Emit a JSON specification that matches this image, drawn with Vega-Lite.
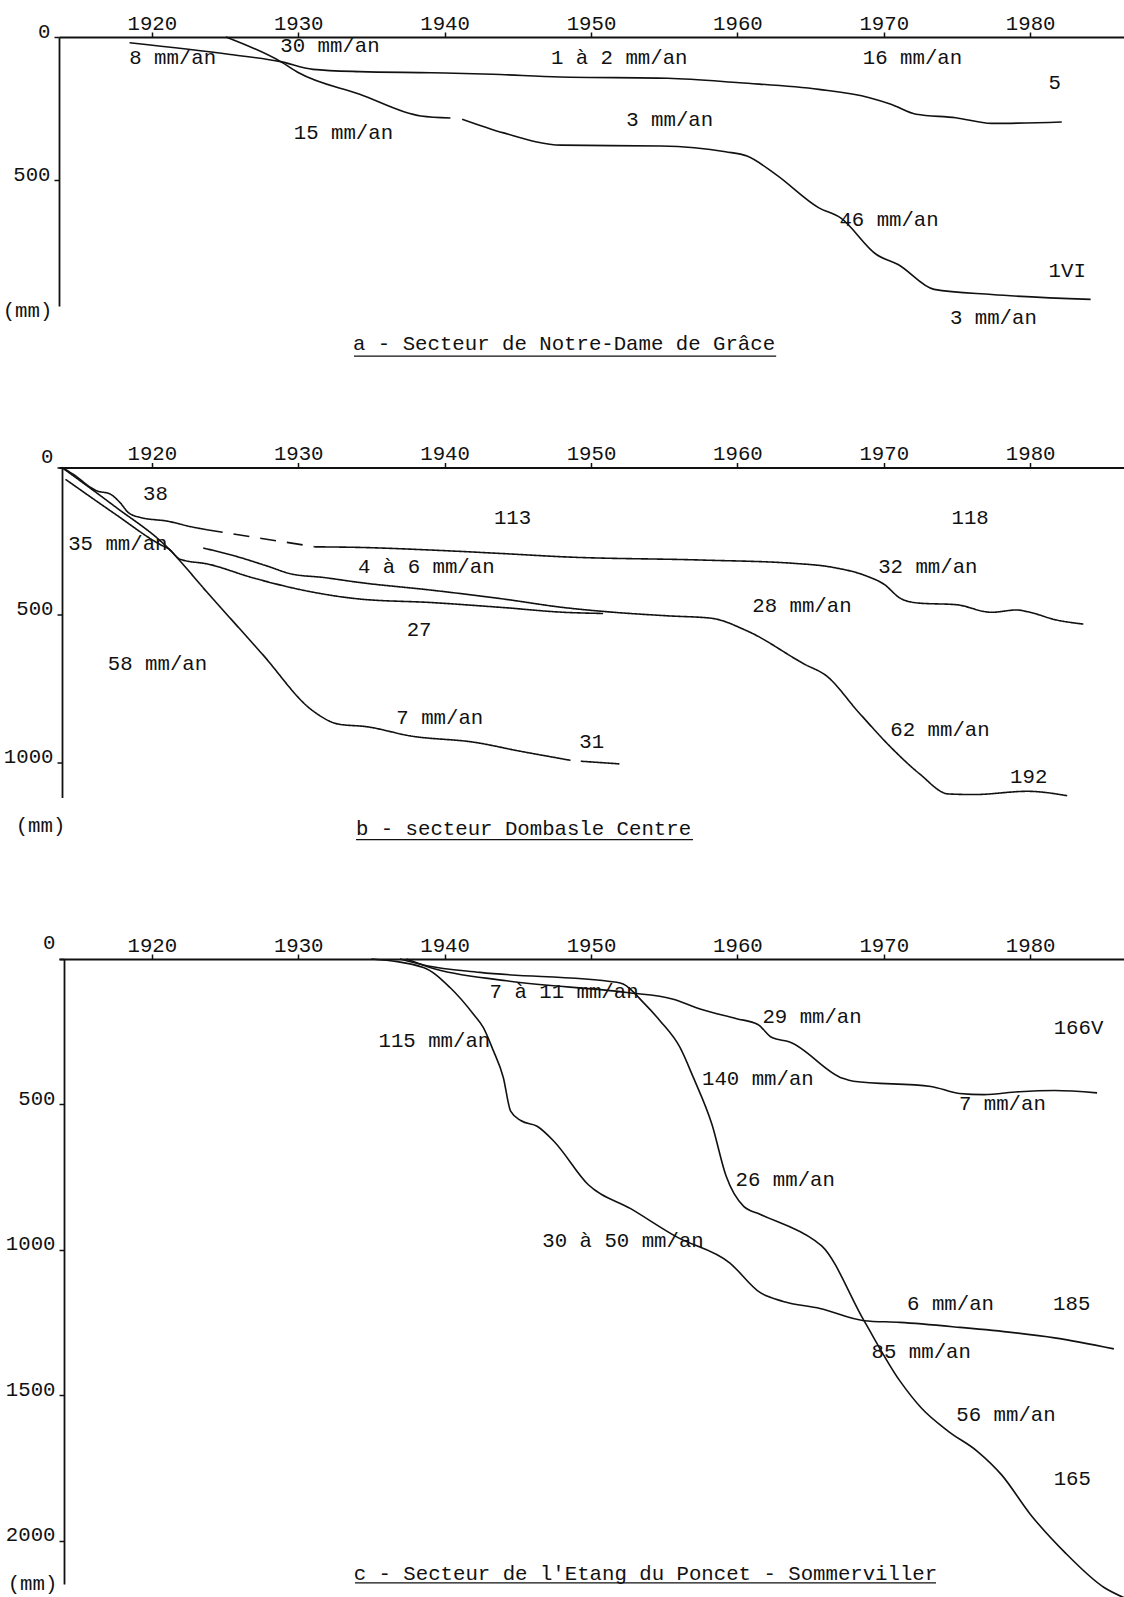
{
  "$schema": "https://vega.github.io/schema/vega-lite/v6.json",
  "background": "white",
  "padding": {"left": 2, "top": 12, "right": 0, "bottom": 0},
  "bounds": "flush",
  "spacing": 161.5,
  "config": {
    "view": {"stroke": null},
    "axis": {"domainColor": "#111", "domainWidth": 1.8, "tickColor": "#111", "tickWidth": 1.5, "tickSize": 5, "labelFont": "Liberation Mono", "labelFontSize": 20.7, "labelColor": "#111", "grid": false, "titleFont": "Liberation Mono", "titleFontSize": 20.7, "titleFontWeight": "normal", "titleColor": "#111"}
  },
  "datasets": {
    "a_lines": [
      {"s":"A1","yr":1918.48,"d":20},{"s":"A1","yr":1925.36,"d":61},{"s":"A1","yr":1928.8,"d":86},{"s":"A1","yr":1931.01,"d":113},{"s":"A1","yr":1934.2,"d":121},{"s":"A1","yr":1939.12,"d":125},{"s":"A1","yr":1943.29,"d":130},{"s":"A1","yr":1947.88,"d":140},{"s":"A1","yr":1955.25,"d":144},{"s":"A1","yr":1960.17,"d":160},{"s":"A1","yr":1965.57,"d":183},{"s":"A1","yr":1969.02,"d":212},{"s":"A1","yr":1970.49,"d":235},{"s":"A1","yr":1972.21,"d":270},{"s":"A1","yr":1974.91,"d":282},{"s":"A1","yr":1977.37,"d":302},{"s":"A1","yr":1982.16,"d":297},
      {"s":"A2a","yr":1925.06,"d":0},{"s":"A2a","yr":1928.8,"d":86},{"s":"A2a","yr":1930.03,"d":125},{"s":"A2a","yr":1934.2,"d":200},{"s":"A2a","yr":1938.38,"d":276},{"s":"A2a","yr":1940.4,"d":283},
      {"s":"A2b","yr":1941.2,"d":287},{"s":"A2b","yr":1944.03,"d":335},{"s":"A2b","yr":1947.96,"d":378},{"s":"A2b","yr":1954.76,"d":381},{"s":"A2b","yr":1959.19,"d":401},{"s":"A2b","yr":1960.66,"d":416},{"s":"A2b","yr":1962.62,"d":480},{"s":"A2b","yr":1965.57,"d":597},{"s":"A2b","yr":1967.05,"d":632},{"s":"A2b","yr":1969.5,"d":760},{"s":"A2b","yr":1970.98,"d":795},{"s":"A2b","yr":1973.44,"d":882},{"s":"A2b","yr":1977.37,"d":900},{"s":"A2b","yr":1984.13,"d":917}
    ],
    "a_labels": [
      {"t":"8 mm/an","yr":1921.43,"d":72},{"t":"30 mm/an","yr":1932.17,"d":31},{"t":"15 mm/an","yr":1933.09,"d":335},{"t":"1 à 2 mm/an","yr":1951.93,"d":75},{"t":"3 mm/an","yr":1955.38,"d":291},{"t":"16 mm/an","yr":1971.96,"d":75},{"t":"5","yr":1981.67,"d":160},{"t":"46 mm/an","yr":1970.36,"d":641},{"t":"1VI","yr":1982.53,"d":818},{"t":"3 mm/an","yr":1977.49,"d":981},
      {"t":"a - Secteur de Notre-Dame de Grâce","yr":1948.16,"d":1073}
    ],
    "a_under": [{"yr":1933.81,"yr2":1962.65,"d":1115}],
    "b_lines": [
      {"s":"L1a","dash":"solid","yr":1913.86,"d":0},{"s":"L1a","dash":"solid","yr":1914.6,"d":22},{"s":"L1a","dash":"solid","yr":1916.24,"d":79},{"s":"L1a","dash":"solid","yr":1917.15,"d":90},{"s":"L1a","dash":"solid","yr":1917.83,"d":119},{"s":"L1a","dash":"solid","yr":1918.4,"d":153},{"s":"L1a","dash":"solid","yr":1919.19,"d":169},{"s":"L1a","dash":"solid","yr":1921.18,"d":183},{"s":"L1a","dash":"solid","yr":1922.41,"d":198},{"s":"L1a","dash":"solid","yr":1923.76,"d":211},
      {"s":"L1b","dash":"dash","yr":1923.76,"d":211},{"s":"L1b","dash":"dash","yr":1931.13,"d":269},
      {"s":"L1c","dash":"solid","yr":1931.13,"d":269},{"s":"L1c","dash":"solid","yr":1934.2,"d":271},{"s":"L1c","dash":"solid","yr":1939.12,"d":280},{"s":"L1c","dash":"solid","yr":1944.03,"d":292},{"s":"L1c","dash":"solid","yr":1948.16,"d":303},{"s":"L1c","dash":"solid","yr":1957.71,"d":314},{"s":"L1c","dash":"solid","yr":1963.85,"d":325},{"s":"L1c","dash":"solid","yr":1966.56,"d":339},{"s":"L1c","dash":"solid","yr":1968.77,"d":367},{"s":"L1c","dash":"solid","yr":1969.99,"d":395},{"s":"L1c","dash":"solid","yr":1971.22,"d":446},{"s":"L1c","dash":"solid","yr":1972.45,"d":460},{"s":"L1c","dash":"solid","yr":1974.91,"d":465},{"s":"L1c","dash":"solid","yr":1977.37,"d":491},{"s":"L1c","dash":"solid","yr":1979.08,"d":483},{"s":"L1c","dash":"solid","yr":1979.82,"d":489},{"s":"L1c","dash":"solid","yr":1981.79,"d":517},{"s":"L1c","dash":"solid","yr":1983.63,"d":531},
      {"s":"L2","dash":"solid","yr":1923.51,"d":273},{"s":"L2","dash":"solid","yr":1925.6,"d":299},{"s":"L2","dash":"solid","yr":1927.81,"d":333},{"s":"L2","dash":"solid","yr":1929.54,"d":361},{"s":"L2","dash":"solid","yr":1931.74,"d":373},{"s":"L2","dash":"solid","yr":1934.2,"d":390},{"s":"L2","dash":"solid","yr":1939.12,"d":416},{"s":"L2","dash":"solid","yr":1944.03,"d":446},{"s":"L2","dash":"solid","yr":1948.16,"d":475},{"s":"L2","dash":"solid","yr":1950.83,"d":488},{"s":"L2","dash":"solid","yr":1955.25,"d":503},{"s":"L2","dash":"solid","yr":1958.2,"d":511},{"s":"L2","dash":"solid","yr":1960.66,"d":554},{"s":"L2","dash":"solid","yr":1964.59,"d":667},{"s":"L2","dash":"solid","yr":1966.07,"d":706},{"s":"L2","dash":"solid","yr":1968.28,"d":830},{"s":"L2","dash":"solid","yr":1970.49,"d":949},{"s":"L2","dash":"solid","yr":1972.45,"d":1039},{"s":"L2","dash":"solid","yr":1974.42,"d":1107},{"s":"L2","dash":"solid","yr":1976.14,"d":1109},{"s":"L2","dash":"solid","yr":1979.82,"d":1098},{"s":"L2","dash":"solid","yr":1982.53,"d":1113},
      {"s":"L3","dash":"solid","yr":1914.1,"d":40},{"s":"L3","dash":"solid","yr":1917.5,"d":158},{"s":"L3","dash":"solid","yr":1920.6,"d":262},{"s":"L3","dash":"solid","yr":1921.18,"d":277},{"s":"L3","dash":"solid","yr":1921.92,"d":311},{"s":"L3","dash":"solid","yr":1923.88,"d":328},{"s":"L3","dash":"solid","yr":1926.83,"d":373},{"s":"L3","dash":"solid","yr":1930.52,"d":418},{"s":"L3","dash":"solid","yr":1934.2,"d":446},{"s":"L3","dash":"solid","yr":1939.12,"d":458},{"s":"L3","dash":"solid","yr":1944.03,"d":475},{"s":"L3","dash":"solid","yr":1948.16,"d":491},{"s":"L3","dash":"solid","yr":1950.83,"d":495},
      {"s":"L4a","dash":"solid","yr":1913.86,"d":0},{"s":"L4a","dash":"solid","yr":1917.5,"d":133},{"s":"L4a","dash":"solid","yr":1920.94,"d":265},{"s":"L4a","dash":"solid","yr":1923.88,"d":429},{"s":"L4a","dash":"solid","yr":1927.5,"d":630},{"s":"L4a","dash":"solid","yr":1931.0,"d":825},{"s":"L4a","dash":"solid","yr":1932.73,"d":870},{"s":"L4a","dash":"solid","yr":1934.69,"d":879},{"s":"L4a","dash":"solid","yr":1937.64,"d":910},{"s":"L4a","dash":"solid","yr":1942.06,"d":932},{"s":"L4a","dash":"solid","yr":1945.26,"d":963},{"s":"L4a","dash":"solid","yr":1948.16,"d":989},{"s":"L4a","dash":"solid","yr":1948.6,"d":993},
      {"s":"L4b","dash":"solid","yr":1949.3,"d":996},{"s":"L4b","dash":"solid","yr":1951.94,"d":1005}
    ],
    "b_labels": [
      {"t":"38","yr":1920.25,"d":90},{"t":"113","yr":1944.64,"d":172},{"t":"35 mm/an","yr":1917.68,"d":260},{"t":"4 à 6 mm/an","yr":1938.75,"d":339},{"t":"27","yr":1938.26,"d":551},{"t":"58 mm/an","yr":1920.39,"d":667},{"t":"7 mm/an","yr":1939.67,"d":850},{"t":"31","yr":1950.05,"d":932},{"t":"118","yr":1975.9,"d":172},{"t":"32 mm/an","yr":1973.01,"d":339},{"t":"28 mm/an","yr":1964.41,"d":469},{"t":"62 mm/an","yr":1973.84,"d":890},{"t":"192","yr":1979.9,"d":1051},
      {"t":"b - secteur Dombasle Centre","yr":1945.39,"d":1225}
    ],
    "b_under": [{"yr":1933.95,"yr2":1956.97,"d":1262}],
    "c_lines": [
      {"s":"C1","yr":1935.0,"d":0},{"s":"C1","yr":1938.55,"d":29},{"s":"C1","yr":1940.37,"d":98},{"s":"C1","yr":1941.96,"d":189},{"s":"C1","yr":1942.64,"d":235},{"s":"C1","yr":1943.33,"d":315},{"s":"C1","yr":1944.01,"d":407},{"s":"C1","yr":1944.51,"d":523},{"s":"C1","yr":1945.23,"d":556},{"s":"C1","yr":1946.32,"d":575},{"s":"C1","yr":1947.48,"d":627},{"s":"C1","yr":1949.82,"d":776},{"s":"C1","yr":1952.71,"d":858},{"s":"C1","yr":1955.85,"d":955},{"s":"C1","yr":1959.47,"d":1044},{"s":"C1","yr":1961.54,"d":1146},{"s":"C1","yr":1963.13,"d":1177},{"s":"C1","yr":1965.64,"d":1201},{"s":"C1","yr":1968.65,"d":1243},{"s":"C1","yr":1971.1,"d":1249},{"s":"C1","yr":1975.2,"d":1266},{"s":"C1","yr":1978.85,"d":1284},{"s":"C1","yr":1981.67,"d":1302},{"s":"C1","yr":1985.72,"d":1340},
      {"s":"C2","yr":1937.41,"d":0},{"s":"C2","yr":1939.0,"d":29},{"s":"C2","yr":1944.24,"d":75},{"s":"C2","yr":1952.44,"d":115},{"s":"C2","yr":1955.62,"d":138},{"s":"C2","yr":1957.45,"d":172},{"s":"C2","yr":1959.95,"d":205},{"s":"C2","yr":1961.4,"d":225},{"s":"C2","yr":1962.36,"d":270},{"s":"C2","yr":1963.57,"d":285},{"s":"C2","yr":1967.19,"d":410},{"s":"C2","yr":1967.92,"d":420},{"s":"C2","yr":1973.22,"d":438},{"s":"C2","yr":1975.16,"d":462},{"s":"C2","yr":1976.84,"d":466},{"s":"C2","yr":1979.26,"d":456},{"s":"C2","yr":1981.67,"d":452},{"s":"C2","yr":1984.57,"d":460},
      {"s":"C3","yr":1936.95,"d":0},{"s":"C3","yr":1938.78,"d":23},{"s":"C3","yr":1942.42,"d":46},{"s":"C3","yr":1951.76,"d":80},{"s":"C3","yr":1952.2,"d":86},{"s":"C3","yr":1953.57,"d":149},{"s":"C3","yr":1954.71,"d":212},{"s":"C3","yr":1956.08,"d":304},{"s":"C3","yr":1956.99,"d":407},{"s":"C3","yr":1958.26,"d":568},{"s":"C3","yr":1959.23,"d":746},{"s":"C3","yr":1960.43,"d":850},{"s":"C3","yr":1961.54,"d":877},{"s":"C3","yr":1965.3,"d":968},{"s":"C3","yr":1965.76,"d":986},{"s":"C3","yr":1968.65,"d":1243},{"s":"C3","yr":1971.1,"d":1450},{"s":"C3","yr":1972.6,"d":1545},{"s":"C3","yr":1974.43,"d":1624},{"s":"C3","yr":1976.37,"d":1691},{"s":"C3","yr":1978.05,"d":1773},{"s":"C3","yr":1979.99,"d":1907},{"s":"C3","yr":1982.4,"d":2041},{"s":"C3","yr":1985.05,"d":2160},{"s":"C3","yr":1986.41,"d":2195}
    ],
    "c_labels": [
      {"t":"7 à 11 mm/an","yr":1948.16,"d":115},{"t":"115 mm/an","yr":1939.3,"d":281},{"t":"29 mm/an","yr":1965.1,"d":200},{"t":"166V","yr":1983.3,"d":238},{"t":"140 mm/an","yr":1961.4,"d":412},{"t":"7 mm/an","yr":1978.1,"d":499},{"t":"26 mm/an","yr":1963.27,"d":758},{"t":"30 à 50 mm/an","yr":1952.19,"d":968},{"t":"6 mm/an","yr":1974.56,"d":1185},{"t":"185","yr":1982.84,"d":1185},{"t":"85 mm/an","yr":1972.56,"d":1349},{"t":"56 mm/an","yr":1978.35,"d":1568},{"t":"165","yr":1982.88,"d":1788},
      {"t":"c - Secteur de l'Etang du Poncet - Sommerviller","yr":1953.72,"d":2113}
    ],
    "c_under": [{"yr":1933.88,"yr2":1973.57,"d":2144}]
  },
  "vconcat": [
    {
      "width": 1065, "height": 269,
      "encoding": {
        "x": {"field": "yr", "type": "quantitative", "scale": {"domain": [1913.66, 1986.41], "nice": false, "zero": false}, "axis": {"orient": "top", "values": [1920,1930,1940,1950,1960,1970,1980], "format": "d", "title": null, "labelBaseline": "alphabetic", "labelPadding": 3, "labelFlush": false, "labelOverlap": false}},
        "y": {"field": "d", "type": "quantitative", "scale": {"domain": [0, 940], "reverse": true, "nice": false, "zero": false}, "axis": {"orient": "left", "values": [0, 500], "format": "d", "title": "(mm)", "titleAngle": 0, "titleAlign": "center", "titleBaseline": "middle", "titleX": -32, "titleY": 273, "labelBaseline": "alphabetic", "labelPadding": 4}}
      },
      "layer": [
        {"data": {"name": "a_lines"}, "mark": {"type": "line", "color": "#111", "strokeWidth": 1.6, "interpolate": "monotone"}, "encoding": {"detail": {"field": "s", "type": "nominal"}}},
        {"data": {"name": "a_labels"}, "mark": {"type": "text", "font": "Liberation Mono", "fontSize": 20.7, "color": "#111"}, "encoding": {"text": {"field": "t", "type": "nominal"}}},
        {"data": {"name": "a_under"}, "mark": {"type": "rule", "color": "#111", "strokeWidth": 1.4}, "encoding": {"x2": {"field": "yr2"}}}
      ]
    },
    {
      "width": 1065, "height": 330,
      "encoding": {
        "x": {"field": "yr", "type": "quantitative", "scale": {"domain": [1913.66, 1986.41], "nice": false, "zero": false}, "axis": {"orient": "top", "values": [1920,1930,1940,1950,1960,1970,1980], "format": "d", "title": null, "labelBaseline": "alphabetic", "labelPadding": 3, "labelFlush": false, "labelOverlap": false}},
        "y": {"field": "d", "type": "quantitative", "scale": {"domain": [0, 1119], "reverse": true, "nice": false, "zero": false}, "axis": {"orient": "left", "offset": -3, "values": [0, 500, 1000], "format": "d", "title": "(mm)", "titleAngle": 0, "titleAlign": "center", "titleBaseline": "middle", "titleX": -22, "titleY": 358, "labelBaseline": "alphabetic", "labelPadding": 4, "labelOffset": {"condition": {"test": "datum.value === 0", "value": -5}, "value": 0}}}
      },
      "layer": [
        {"data": {"name": "b_lines"}, "mark": {"type": "line", "color": "#111", "strokeWidth": 1.6, "interpolate": "monotone"}, "encoding": {"detail": {"field": "s", "type": "nominal"}, "strokeDash": {"field": "dash", "type": "nominal", "scale": {"domain": ["solid", "dash"], "range": [[1, 0], [16, 11]]}, "legend": null}}},
        {"data": {"name": "b_labels"}, "mark": {"type": "text", "font": "Liberation Mono", "fontSize": 20.7, "color": "#111"}, "encoding": {"text": {"field": "t", "type": "nominal"}}},
        {"data": {"name": "b_under"}, "mark": {"type": "rule", "color": "#111", "strokeWidth": 1.4}, "encoding": {"x2": {"field": "yr2"}}}
      ]
    },
    {
      "width": 1065, "height": 625,
      "encoding": {
        "x": {"field": "yr", "type": "quantitative", "scale": {"domain": [1913.66, 1986.41], "nice": false, "zero": false}, "axis": {"orient": "top", "values": [1920,1930,1940,1950,1960,1970,1980], "format": "d", "title": null, "labelBaseline": "alphabetic", "labelPadding": 3, "labelFlush": false, "labelOverlap": false}},
        "y": {"field": "d", "type": "quantitative", "scale": {"domain": [0, 2148], "reverse": true, "nice": false, "zero": false}, "axis": {"orient": "left", "offset": -5, "values": [0, 500, 1000, 1500, 2000], "format": "d", "title": "(mm)", "titleAngle": 0, "titleAlign": "center", "titleBaseline": "middle", "titleX": -32, "titleY": 624, "labelBaseline": "alphabetic", "labelPadding": 4, "labelOffset": {"condition": {"test": "datum.value === 0", "value": -11}, "value": 0}}}
      },
      "layer": [
        {"data": {"name": "c_lines"}, "mark": {"type": "line", "color": "#111", "strokeWidth": 1.6, "interpolate": "monotone"}, "encoding": {"detail": {"field": "s", "type": "nominal"}}},
        {"data": {"name": "c_labels"}, "mark": {"type": "text", "font": "Liberation Mono", "fontSize": 20.7, "color": "#111"}, "encoding": {"text": {"field": "t", "type": "nominal"}}},
        {"data": {"name": "c_under"}, "mark": {"type": "rule", "color": "#111", "strokeWidth": 1.4}, "encoding": {"x2": {"field": "yr2"}}}
      ]
    }
  ]
}
